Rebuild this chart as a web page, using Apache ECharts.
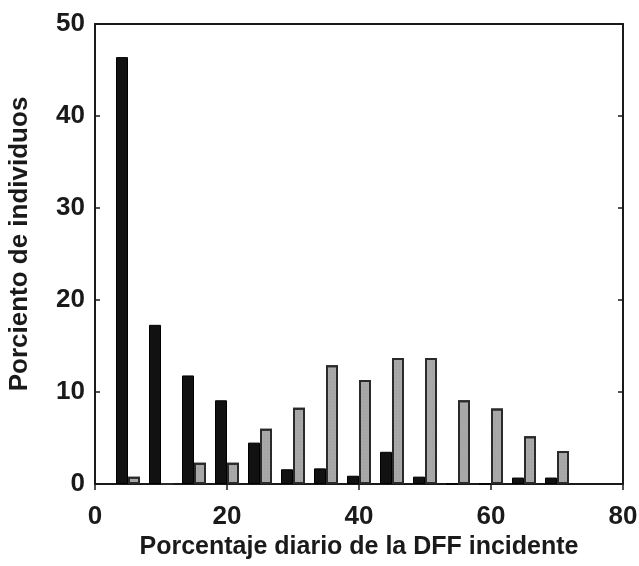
<!DOCTYPE html>
<html>
<head>
<meta charset="utf-8">
<script src="https://cdn.jsdelivr.net/npm/echarts@6/dist/echarts.min.js"></script>
<style>
  html, body { margin: 0; padding: 0; background: #ffffff; }
  #chart { width: 639px; height: 566px; }
</style>
</head>
<body>
<div id="chart"></div>
<script>
// Class midpoints (% of incident daily PPFD)
const classes = [5, 10, 15, 20, 25, 30, 35, 40, 45, 50, 55, 60, 65, 70];
// Percent of individuals per class, two groups
const seriesDark = [46.4, 17.3, 11.8, 9.1, 4.5, 1.6, 1.7, 0.9, 3.5, 0.8, 0, 0, 0.7, 0.7];
const seriesGray = [0.8, 0, 2.3, 2.3, 6.0, 8.3, 12.9, 11.3, 13.7, 13.7, 9.1, 8.2, 5.2, 3.6];
const xTicks = [0, 20, 40, 60, 80];
const yTicks = [0, 10, 20, 30, 40, 50];

const FONT = '"Liberation Sans", Arial, sans-serif';
const INK = '#1a1a1a';

const pairs = vals => classes.map((c, i) => [c, vals[i]]);

const chart = echarts.init(document.getElementById('chart'), null, { renderer: 'canvas' });
chart.setOption({
  backgroundColor: '#ffffff',
  animation: false,
  grid: { left: 95, right: 16, top: 24, bottom: 82, containLabel: false, outerBoundsMode: 'none' },
  xAxis: [
    {
      type: 'value', min: xTicks[0], max: xTicks[xTicks.length - 1], interval: 20,
      name: 'Porcentaje diario de la DFF incidente',
      nameLocation: 'middle', nameGap: 48,
      nameTextStyle: { fontFamily: FONT, fontSize: 25, fontWeight: 'bold', color: INK },
      axisLine: { show: true, lineStyle: { color: INK, width: 2 } },
      axisTick: { show: true, inside: false, length: 6, lineStyle: { color: INK, width: 1.5 } },
      axisLabel: { fontFamily: FONT, fontSize: 26, fontWeight: 'bold', color: INK, margin: 20 },
      splitLine: { show: false }
    },
    {
      type: 'value', position: 'top', min: 0, max: 80, interval: 20,
      axisLine: { show: true, onZero: false, lineStyle: { color: INK, width: 2 } },
      axisTick: { show: false }, axisLabel: { show: false }, splitLine: { show: false }
    }
  ],
  yAxis: [
    {
      type: 'value', min: yTicks[0], max: yTicks[yTicks.length - 1], interval: 10,
      name: 'Porciento de individuos',
      nameLocation: 'middle', nameGap: 62,
      nameTextStyle: { fontFamily: FONT, fontSize: 26, fontWeight: 'bold', color: INK, padding: [0, 0, 0, 20] },
      axisLine: { show: true, lineStyle: { color: INK, width: 2 } },
      axisTick: { show: true, inside: true, length: 5, lineStyle: { color: INK, width: 1.5 } },
      axisLabel: { fontFamily: FONT, fontSize: 26, fontWeight: 'bold', color: INK, margin: 10 },
      splitLine: { show: false }
    },
    {
      type: 'value', position: 'right', min: 0, max: 50, interval: 10,
      axisLine: { show: true, onZero: false, lineStyle: { color: INK, width: 2 } },
      axisTick: { show: true, inside: true, length: 5, lineStyle: { color: INK, width: 1.5 } },
      axisLabel: { show: false }, splitLine: { show: false }
    }
  ],
  series: [
    {
      name: 'oscuro', type: 'bar', xAxisIndex: 0, yAxisIndex: 0,
      data: pairs(seriesDark), barWidth: 12, barGap: '0%',
      itemStyle: { color: '#111111', borderColor: '#000000', borderWidth: 1 }
    },
    {
      name: 'gris', type: 'bar', xAxisIndex: 0, yAxisIndex: 0,
      data: pairs(seriesGray), barWidth: 12, barGap: '0%',
      itemStyle: {
        color: '#a8a8a8', borderColor: '#2a2a2a', borderWidth: 2,
        decal: { symbol: 'rect', symbolSize: 0.5, dashArrayX: [1, 2], dashArrayY: [1, 2], color: 'rgba(60,60,60,0.35)' }
      }
    }
  ]
});
</script>
</body>
</html>
